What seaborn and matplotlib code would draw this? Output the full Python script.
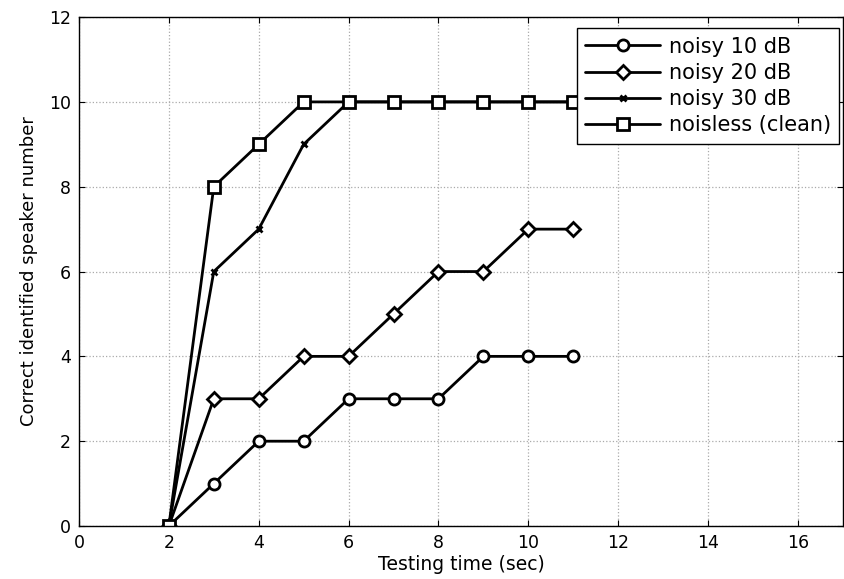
import matplotlib
matplotlib.use("Agg")
import matplotlib.pyplot as plt
import seaborn as sns
import pandas as pd

time_sec = [2, 3, 4, 5, 6, 7, 8, 9, 10, 11]
noisy_10 = [0, 1, 2, 2, 3, 3, 3, 4, 4, 4]
noisy_20 = [0, 3, 3, 4, 4, 5, 6, 6, 7, 7]
noisy_30 = [0, 6, 7, 9, 10, 10, 10, 10, 10, 10]
noiseless = [0, 8, 9, 10, 10, 10, 10, 10, 10, 10]
labels = ["noisy 10 dB", "noisy 20 dB", "noisy 30 dB", "noisless (clean)"]

series = [noisy_10, noisy_20, noisy_30, noiseless]
df = pd.concat([pd.DataFrame({"t": time_sec, "n": s, "cond": lab})
                for s, lab in zip(series, labels)], ignore_index=True)

sns.set_style("white")
plt.rcParams['font.family'] = ['DejaVu Sans']
plt.rcParams['text.color'] = 'black'
plt.rcParams['axes.labelcolor'] = 'black'
plt.rcParams['xtick.color'] = 'black'
plt.rcParams['ytick.color'] = 'black'

fig = plt.figure(figsize=(8.44, 5.79), dpi=100)
ax = fig.add_axes([0.0936, 0.0915, 0.905, 0.879])

markers = {"noisy 10 dB": "o", "noisy 20 dB": "D", "noisy 30 dB": "x", "noisless (clean)": "s"}
msizes = {"noisy 10 dB": 8, "noisy 20 dB": 7, "noisy 30 dB": 5, "noisless (clean)": 9}
for lab in labels:
    sub = df[df["cond"] == lab]
    sns.lineplot(data=sub, x="t", y="n", ax=ax, color="black", lw=2,
                 marker=markers[lab], markersize=msizes[lab],
                 markerfacecolor="white" if lab != "noisy 30 dB" else "black",
                 markeredgecolor="black", markeredgewidth=2, label=lab)

ax.set_xlim(0, 17)
ax.set_ylim(0, 12)
ax.set_xticks(range(0, 17, 2))
ax.set_yticks(range(0, 13, 2))
ax.grid(True, color="#aaaaaa", linestyle=":", linewidth=0.9)
for sp in ax.spines.values():
    sp.set_visible(True)
    sp.set_color("black")
    sp.set_linewidth(1)
ax.tick_params(direction="in", length=4, labelsize=12.5, colors="black", pad=6,
               top=True, right=True, bottom=True, left=True)
ax.set_xlabel("Testing time (sec)", fontsize=13.5, labelpad=2, color="black")
ax.set_ylabel("Correct identified speaker number", fontsize=13, labelpad=8, color="black")

leg = ax.legend(loc="upper right", bbox_to_anchor=(0.995, 0.978), borderaxespad=0,
                fontsize=15, frameon=True, fancybox=False,
                edgecolor="black", framealpha=1,
                handlelength=3.6, handletextpad=0.4, labelspacing=0.3, borderpad=0.4)
leg.get_frame().set_linewidth(1)
leg.set_zorder(10)
for t in leg.get_texts():
    t.set_color("black")

fig.savefig("out.png", dpi=100)
